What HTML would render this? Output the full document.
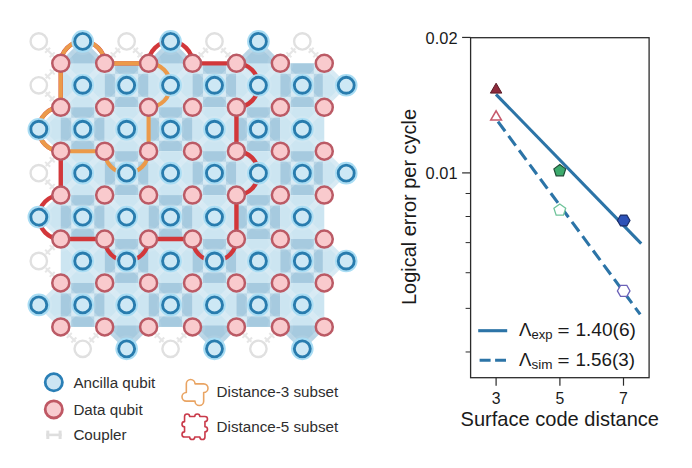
<!DOCTYPE html>
<html><head><meta charset="utf-8"><style>
html,body{margin:0;padding:0;background:#fff;}
body{width:692px;height:468px;overflow:hidden;}
svg{display:block;}
text{font-family:"Liberation Sans",sans-serif;fill:#1a1a1a;}
.lg text{fill:#2e2e2e;}
</style></head><body>
<svg width="692" height="468" viewBox="0 0 692 468">
<rect width="692" height="468" fill="#fff"/>
<polygon points="60.76,107.28 38.80,129.24 60.76,151.20" fill="#cce5f1" stroke="#cce5f1" stroke-width="3" stroke-linejoin="round"/>
<polygon points="60.76,195.12 38.80,217.08 60.76,239.04" fill="#cce5f1" stroke="#cce5f1" stroke-width="3" stroke-linejoin="round"/>
<polygon points="60.76,282.96 38.80,304.92 60.76,326.88" fill="#cce5f1" stroke="#cce5f1" stroke-width="3" stroke-linejoin="round"/>
<polygon points="60.76,63.36 82.72,41.40 104.68,63.36" fill="#a6cadf" stroke="#a6cadf" stroke-width="3" stroke-linejoin="round"/>
<rect x="60.76" y="63.36" width="43.92" height="43.92" fill="#cce5f1"/>
<rect x="60.76" y="107.28" width="43.92" height="43.92" fill="#cce5f1"/>
<rect x="71.22" y="107.28" width="23.00" height="10.46" fill="#a6cadf"/>
<rect x="71.22" y="140.74" width="23.00" height="10.46" fill="#a6cadf"/>
<rect x="60.76" y="117.74" width="10.46" height="23.00" fill="#a6cadf"/>
<rect x="94.22" y="117.74" width="10.46" height="23.00" fill="#a6cadf"/>
<rect x="60.76" y="151.20" width="43.92" height="43.92" fill="#cce5f1"/>
<rect x="60.76" y="195.12" width="43.92" height="43.92" fill="#cce5f1"/>
<rect x="71.22" y="195.12" width="23.00" height="10.46" fill="#a6cadf"/>
<rect x="71.22" y="228.58" width="23.00" height="10.46" fill="#a6cadf"/>
<rect x="60.76" y="205.58" width="10.46" height="23.00" fill="#a6cadf"/>
<rect x="94.22" y="205.58" width="10.46" height="23.00" fill="#a6cadf"/>
<rect x="60.76" y="239.04" width="43.92" height="43.92" fill="#cce5f1"/>
<rect x="60.76" y="282.96" width="43.92" height="43.92" fill="#cce5f1"/>
<rect x="71.22" y="282.96" width="23.00" height="10.46" fill="#a6cadf"/>
<rect x="71.22" y="316.42" width="23.00" height="10.46" fill="#a6cadf"/>
<rect x="60.76" y="293.42" width="10.46" height="23.00" fill="#a6cadf"/>
<rect x="94.22" y="293.42" width="10.46" height="23.00" fill="#a6cadf"/>
<rect x="104.68" y="63.36" width="43.92" height="43.92" fill="#cce5f1"/>
<rect x="115.14" y="63.36" width="23.00" height="10.46" fill="#a6cadf"/>
<rect x="115.14" y="96.82" width="23.00" height="10.46" fill="#a6cadf"/>
<rect x="104.68" y="73.82" width="10.46" height="23.00" fill="#a6cadf"/>
<rect x="138.14" y="73.82" width="10.46" height="23.00" fill="#a6cadf"/>
<rect x="104.68" y="107.28" width="43.92" height="43.92" fill="#cce5f1"/>
<rect x="104.68" y="151.20" width="43.92" height="43.92" fill="#cce5f1"/>
<rect x="115.14" y="151.20" width="23.00" height="10.46" fill="#a6cadf"/>
<rect x="115.14" y="184.66" width="23.00" height="10.46" fill="#a6cadf"/>
<rect x="104.68" y="161.66" width="10.46" height="23.00" fill="#a6cadf"/>
<rect x="138.14" y="161.66" width="10.46" height="23.00" fill="#a6cadf"/>
<rect x="104.68" y="195.12" width="43.92" height="43.92" fill="#cce5f1"/>
<rect x="104.68" y="239.04" width="43.92" height="43.92" fill="#cce5f1"/>
<rect x="115.14" y="239.04" width="23.00" height="10.46" fill="#a6cadf"/>
<rect x="115.14" y="272.50" width="23.00" height="10.46" fill="#a6cadf"/>
<rect x="104.68" y="249.50" width="10.46" height="23.00" fill="#a6cadf"/>
<rect x="138.14" y="249.50" width="10.46" height="23.00" fill="#a6cadf"/>
<rect x="104.68" y="282.96" width="43.92" height="43.92" fill="#cce5f1"/>
<polygon points="104.68,326.88 126.64,348.84 148.60,326.88" fill="#a6cadf" stroke="#a6cadf" stroke-width="3" stroke-linejoin="round"/>
<polygon points="148.60,63.36 170.56,41.40 192.52,63.36" fill="#a6cadf" stroke="#a6cadf" stroke-width="3" stroke-linejoin="round"/>
<rect x="148.60" y="63.36" width="43.92" height="43.92" fill="#cce5f1"/>
<rect x="148.60" y="107.28" width="43.92" height="43.92" fill="#cce5f1"/>
<rect x="159.06" y="107.28" width="23.00" height="10.46" fill="#a6cadf"/>
<rect x="159.06" y="140.74" width="23.00" height="10.46" fill="#a6cadf"/>
<rect x="148.60" y="117.74" width="10.46" height="23.00" fill="#a6cadf"/>
<rect x="182.06" y="117.74" width="10.46" height="23.00" fill="#a6cadf"/>
<rect x="148.60" y="151.20" width="43.92" height="43.92" fill="#cce5f1"/>
<rect x="148.60" y="195.12" width="43.92" height="43.92" fill="#cce5f1"/>
<rect x="159.06" y="195.12" width="23.00" height="10.46" fill="#a6cadf"/>
<rect x="159.06" y="228.58" width="23.00" height="10.46" fill="#a6cadf"/>
<rect x="148.60" y="205.58" width="10.46" height="23.00" fill="#a6cadf"/>
<rect x="182.06" y="205.58" width="10.46" height="23.00" fill="#a6cadf"/>
<rect x="148.60" y="239.04" width="43.92" height="43.92" fill="#cce5f1"/>
<rect x="148.60" y="282.96" width="43.92" height="43.92" fill="#cce5f1"/>
<rect x="159.06" y="282.96" width="23.00" height="10.46" fill="#a6cadf"/>
<rect x="159.06" y="316.42" width="23.00" height="10.46" fill="#a6cadf"/>
<rect x="148.60" y="293.42" width="10.46" height="23.00" fill="#a6cadf"/>
<rect x="182.06" y="293.42" width="10.46" height="23.00" fill="#a6cadf"/>
<rect x="192.52" y="63.36" width="43.92" height="43.92" fill="#cce5f1"/>
<rect x="202.98" y="63.36" width="23.00" height="10.46" fill="#a6cadf"/>
<rect x="202.98" y="96.82" width="23.00" height="10.46" fill="#a6cadf"/>
<rect x="192.52" y="73.82" width="10.46" height="23.00" fill="#a6cadf"/>
<rect x="225.98" y="73.82" width="10.46" height="23.00" fill="#a6cadf"/>
<rect x="192.52" y="107.28" width="43.92" height="43.92" fill="#cce5f1"/>
<rect x="192.52" y="151.20" width="43.92" height="43.92" fill="#cce5f1"/>
<rect x="202.98" y="151.20" width="23.00" height="10.46" fill="#a6cadf"/>
<rect x="202.98" y="184.66" width="23.00" height="10.46" fill="#a6cadf"/>
<rect x="192.52" y="161.66" width="10.46" height="23.00" fill="#a6cadf"/>
<rect x="225.98" y="161.66" width="10.46" height="23.00" fill="#a6cadf"/>
<rect x="192.52" y="195.12" width="43.92" height="43.92" fill="#cce5f1"/>
<rect x="192.52" y="239.04" width="43.92" height="43.92" fill="#cce5f1"/>
<rect x="202.98" y="239.04" width="23.00" height="10.46" fill="#a6cadf"/>
<rect x="202.98" y="272.50" width="23.00" height="10.46" fill="#a6cadf"/>
<rect x="192.52" y="249.50" width="10.46" height="23.00" fill="#a6cadf"/>
<rect x="225.98" y="249.50" width="10.46" height="23.00" fill="#a6cadf"/>
<rect x="192.52" y="282.96" width="43.92" height="43.92" fill="#cce5f1"/>
<polygon points="192.52,326.88 214.48,348.84 236.44,326.88" fill="#a6cadf" stroke="#a6cadf" stroke-width="3" stroke-linejoin="round"/>
<polygon points="236.44,63.36 258.40,41.40 280.36,63.36" fill="#a6cadf" stroke="#a6cadf" stroke-width="3" stroke-linejoin="round"/>
<rect x="236.44" y="63.36" width="43.92" height="43.92" fill="#cce5f1"/>
<rect x="236.44" y="107.28" width="43.92" height="43.92" fill="#cce5f1"/>
<rect x="246.90" y="107.28" width="23.00" height="10.46" fill="#a6cadf"/>
<rect x="246.90" y="140.74" width="23.00" height="10.46" fill="#a6cadf"/>
<rect x="236.44" y="117.74" width="10.46" height="23.00" fill="#a6cadf"/>
<rect x="269.90" y="117.74" width="10.46" height="23.00" fill="#a6cadf"/>
<rect x="236.44" y="151.20" width="43.92" height="43.92" fill="#cce5f1"/>
<rect x="236.44" y="195.12" width="43.92" height="43.92" fill="#cce5f1"/>
<rect x="246.90" y="195.12" width="23.00" height="10.46" fill="#a6cadf"/>
<rect x="246.90" y="228.58" width="23.00" height="10.46" fill="#a6cadf"/>
<rect x="236.44" y="205.58" width="10.46" height="23.00" fill="#a6cadf"/>
<rect x="269.90" y="205.58" width="10.46" height="23.00" fill="#a6cadf"/>
<rect x="236.44" y="239.04" width="43.92" height="43.92" fill="#cce5f1"/>
<rect x="236.44" y="282.96" width="43.92" height="43.92" fill="#cce5f1"/>
<rect x="246.90" y="282.96" width="23.00" height="10.46" fill="#a6cadf"/>
<rect x="246.90" y="316.42" width="23.00" height="10.46" fill="#a6cadf"/>
<rect x="236.44" y="293.42" width="10.46" height="23.00" fill="#a6cadf"/>
<rect x="269.90" y="293.42" width="10.46" height="23.00" fill="#a6cadf"/>
<rect x="280.36" y="63.36" width="43.92" height="43.92" fill="#cce5f1"/>
<rect x="290.82" y="63.36" width="23.00" height="10.46" fill="#a6cadf"/>
<rect x="290.82" y="96.82" width="23.00" height="10.46" fill="#a6cadf"/>
<rect x="280.36" y="73.82" width="10.46" height="23.00" fill="#a6cadf"/>
<rect x="313.82" y="73.82" width="10.46" height="23.00" fill="#a6cadf"/>
<rect x="280.36" y="107.28" width="43.92" height="43.92" fill="#cce5f1"/>
<rect x="280.36" y="151.20" width="43.92" height="43.92" fill="#cce5f1"/>
<rect x="290.82" y="151.20" width="23.00" height="10.46" fill="#a6cadf"/>
<rect x="290.82" y="184.66" width="23.00" height="10.46" fill="#a6cadf"/>
<rect x="280.36" y="161.66" width="10.46" height="23.00" fill="#a6cadf"/>
<rect x="313.82" y="161.66" width="10.46" height="23.00" fill="#a6cadf"/>
<rect x="280.36" y="195.12" width="43.92" height="43.92" fill="#cce5f1"/>
<rect x="280.36" y="239.04" width="43.92" height="43.92" fill="#cce5f1"/>
<rect x="290.82" y="239.04" width="23.00" height="10.46" fill="#a6cadf"/>
<rect x="290.82" y="272.50" width="23.00" height="10.46" fill="#a6cadf"/>
<rect x="280.36" y="249.50" width="10.46" height="23.00" fill="#a6cadf"/>
<rect x="313.82" y="249.50" width="10.46" height="23.00" fill="#a6cadf"/>
<rect x="280.36" y="282.96" width="43.92" height="43.92" fill="#cce5f1"/>
<polygon points="280.36,326.88 302.32,348.84 324.28,326.88" fill="#a6cadf" stroke="#a6cadf" stroke-width="3" stroke-linejoin="round"/>
<polygon points="324.28,63.36 346.24,85.32 324.28,107.28" fill="#cce5f1" stroke="#cce5f1" stroke-width="3" stroke-linejoin="round"/>
<polygon points="324.28,151.20 346.24,173.16 324.28,195.12" fill="#cce5f1" stroke="#cce5f1" stroke-width="3" stroke-linejoin="round"/>
<polygon points="324.28,239.04 346.24,261.00 324.28,282.96" fill="#cce5f1" stroke="#cce5f1" stroke-width="3" stroke-linejoin="round"/>
<line x1="45.87" y1="48.47" x2="53.65" y2="56.25" stroke="#e6e6e6" stroke-width="2.2"/>
<line x1="45.16" y1="52.71" x2="50.11" y2="47.76" stroke="#e6e6e6" stroke-width="2"/>
<line x1="49.76" y1="57.31" x2="54.71" y2="52.36" stroke="#e6e6e6" stroke-width="2"/>
<line x1="45.87" y1="92.39" x2="53.65" y2="100.17" stroke="#e6e6e6" stroke-width="2.2"/>
<line x1="45.16" y1="96.63" x2="50.11" y2="91.68" stroke="#e6e6e6" stroke-width="2"/>
<line x1="49.76" y1="101.23" x2="54.71" y2="96.28" stroke="#e6e6e6" stroke-width="2"/>
<line x1="45.87" y1="78.25" x2="53.65" y2="70.47" stroke="#e6e6e6" stroke-width="2.2"/>
<line x1="50.11" y1="78.96" x2="45.16" y2="74.01" stroke="#e6e6e6" stroke-width="2"/>
<line x1="54.71" y1="74.36" x2="49.76" y2="69.41" stroke="#e6e6e6" stroke-width="2"/>
<line x1="45.87" y1="180.23" x2="53.65" y2="188.01" stroke="#e6e6e6" stroke-width="2.2"/>
<line x1="45.16" y1="184.47" x2="50.11" y2="179.52" stroke="#e6e6e6" stroke-width="2"/>
<line x1="49.76" y1="189.07" x2="54.71" y2="184.12" stroke="#e6e6e6" stroke-width="2"/>
<line x1="45.87" y1="166.09" x2="53.65" y2="158.31" stroke="#e6e6e6" stroke-width="2.2"/>
<line x1="50.11" y1="166.80" x2="45.16" y2="161.85" stroke="#e6e6e6" stroke-width="2"/>
<line x1="54.71" y1="162.20" x2="49.76" y2="157.25" stroke="#e6e6e6" stroke-width="2"/>
<line x1="45.87" y1="268.07" x2="53.65" y2="275.85" stroke="#e6e6e6" stroke-width="2.2"/>
<line x1="45.16" y1="272.31" x2="50.11" y2="267.36" stroke="#e6e6e6" stroke-width="2"/>
<line x1="49.76" y1="276.91" x2="54.71" y2="271.96" stroke="#e6e6e6" stroke-width="2"/>
<line x1="45.87" y1="253.93" x2="53.65" y2="246.15" stroke="#e6e6e6" stroke-width="2.2"/>
<line x1="50.11" y1="254.64" x2="45.16" y2="249.69" stroke="#e6e6e6" stroke-width="2"/>
<line x1="54.71" y1="250.04" x2="49.76" y2="245.09" stroke="#e6e6e6" stroke-width="2"/>
<line x1="89.79" y1="341.77" x2="97.57" y2="333.99" stroke="#e6e6e6" stroke-width="2.2"/>
<line x1="94.03" y1="342.48" x2="89.08" y2="337.53" stroke="#e6e6e6" stroke-width="2"/>
<line x1="98.63" y1="337.88" x2="93.68" y2="332.93" stroke="#e6e6e6" stroke-width="2"/>
<line x1="75.65" y1="341.77" x2="67.87" y2="333.99" stroke="#e6e6e6" stroke-width="2.2"/>
<line x1="76.36" y1="337.53" x2="71.41" y2="342.48" stroke="#e6e6e6" stroke-width="2"/>
<line x1="71.76" y1="332.93" x2="66.81" y2="337.88" stroke="#e6e6e6" stroke-width="2"/>
<line x1="133.71" y1="48.47" x2="141.49" y2="56.25" stroke="#e6e6e6" stroke-width="2.2"/>
<line x1="133.00" y1="52.71" x2="137.95" y2="47.76" stroke="#e6e6e6" stroke-width="2"/>
<line x1="137.60" y1="57.31" x2="142.55" y2="52.36" stroke="#e6e6e6" stroke-width="2"/>
<line x1="119.57" y1="48.47" x2="111.79" y2="56.25" stroke="#e6e6e6" stroke-width="2.2"/>
<line x1="115.33" y1="47.76" x2="120.28" y2="52.71" stroke="#e6e6e6" stroke-width="2"/>
<line x1="110.73" y1="52.36" x2="115.68" y2="57.31" stroke="#e6e6e6" stroke-width="2"/>
<line x1="177.63" y1="341.77" x2="185.41" y2="333.99" stroke="#e6e6e6" stroke-width="2.2"/>
<line x1="181.87" y1="342.48" x2="176.92" y2="337.53" stroke="#e6e6e6" stroke-width="2"/>
<line x1="186.47" y1="337.88" x2="181.52" y2="332.93" stroke="#e6e6e6" stroke-width="2"/>
<line x1="163.49" y1="341.77" x2="155.71" y2="333.99" stroke="#e6e6e6" stroke-width="2.2"/>
<line x1="164.20" y1="337.53" x2="159.25" y2="342.48" stroke="#e6e6e6" stroke-width="2"/>
<line x1="159.60" y1="332.93" x2="154.65" y2="337.88" stroke="#e6e6e6" stroke-width="2"/>
<line x1="221.55" y1="48.47" x2="229.33" y2="56.25" stroke="#e6e6e6" stroke-width="2.2"/>
<line x1="220.84" y1="52.71" x2="225.79" y2="47.76" stroke="#e6e6e6" stroke-width="2"/>
<line x1="225.44" y1="57.31" x2="230.39" y2="52.36" stroke="#e6e6e6" stroke-width="2"/>
<line x1="207.41" y1="48.47" x2="199.63" y2="56.25" stroke="#e6e6e6" stroke-width="2.2"/>
<line x1="203.17" y1="47.76" x2="208.12" y2="52.71" stroke="#e6e6e6" stroke-width="2"/>
<line x1="198.57" y1="52.36" x2="203.52" y2="57.31" stroke="#e6e6e6" stroke-width="2"/>
<line x1="265.47" y1="341.77" x2="273.25" y2="333.99" stroke="#e6e6e6" stroke-width="2.2"/>
<line x1="269.71" y1="342.48" x2="264.76" y2="337.53" stroke="#e6e6e6" stroke-width="2"/>
<line x1="274.31" y1="337.88" x2="269.36" y2="332.93" stroke="#e6e6e6" stroke-width="2"/>
<line x1="251.33" y1="341.77" x2="243.55" y2="333.99" stroke="#e6e6e6" stroke-width="2.2"/>
<line x1="252.04" y1="337.53" x2="247.09" y2="342.48" stroke="#e6e6e6" stroke-width="2"/>
<line x1="247.44" y1="332.93" x2="242.49" y2="337.88" stroke="#e6e6e6" stroke-width="2"/>
<line x1="309.39" y1="48.47" x2="317.17" y2="56.25" stroke="#e6e6e6" stroke-width="2.2"/>
<line x1="308.68" y1="52.71" x2="313.63" y2="47.76" stroke="#e6e6e6" stroke-width="2"/>
<line x1="313.28" y1="57.31" x2="318.23" y2="52.36" stroke="#e6e6e6" stroke-width="2"/>
<line x1="295.25" y1="48.47" x2="287.47" y2="56.25" stroke="#e6e6e6" stroke-width="2.2"/>
<line x1="291.01" y1="47.76" x2="295.96" y2="52.71" stroke="#e6e6e6" stroke-width="2"/>
<line x1="286.41" y1="52.36" x2="291.36" y2="57.31" stroke="#e6e6e6" stroke-width="2"/>
<g stroke="#ffffff" stroke-opacity="0.22" stroke-width="6"><line x1="38.80" y1="129.24" x2="60.76" y2="107.28"/><line x1="38.80" y1="129.24" x2="60.76" y2="151.20"/><line x1="38.80" y1="217.08" x2="60.76" y2="195.12"/><line x1="38.80" y1="217.08" x2="60.76" y2="239.04"/><line x1="38.80" y1="304.92" x2="60.76" y2="282.96"/><line x1="38.80" y1="304.92" x2="60.76" y2="326.88"/><line x1="82.72" y1="41.40" x2="60.76" y2="63.36"/><line x1="82.72" y1="41.40" x2="104.68" y2="63.36"/><line x1="82.72" y1="85.32" x2="60.76" y2="63.36"/><line x1="82.72" y1="85.32" x2="60.76" y2="107.28"/><line x1="82.72" y1="85.32" x2="104.68" y2="63.36"/><line x1="82.72" y1="85.32" x2="104.68" y2="107.28"/><line x1="82.72" y1="129.24" x2="60.76" y2="107.28"/><line x1="82.72" y1="129.24" x2="60.76" y2="151.20"/><line x1="82.72" y1="129.24" x2="104.68" y2="107.28"/><line x1="82.72" y1="129.24" x2="104.68" y2="151.20"/><line x1="82.72" y1="173.16" x2="60.76" y2="151.20"/><line x1="82.72" y1="173.16" x2="60.76" y2="195.12"/><line x1="82.72" y1="173.16" x2="104.68" y2="151.20"/><line x1="82.72" y1="173.16" x2="104.68" y2="195.12"/><line x1="82.72" y1="217.08" x2="60.76" y2="195.12"/><line x1="82.72" y1="217.08" x2="60.76" y2="239.04"/><line x1="82.72" y1="217.08" x2="104.68" y2="195.12"/><line x1="82.72" y1="217.08" x2="104.68" y2="239.04"/><line x1="82.72" y1="261.00" x2="60.76" y2="239.04"/><line x1="82.72" y1="261.00" x2="60.76" y2="282.96"/><line x1="82.72" y1="261.00" x2="104.68" y2="239.04"/><line x1="82.72" y1="261.00" x2="104.68" y2="282.96"/><line x1="82.72" y1="304.92" x2="60.76" y2="282.96"/><line x1="82.72" y1="304.92" x2="60.76" y2="326.88"/><line x1="82.72" y1="304.92" x2="104.68" y2="282.96"/><line x1="82.72" y1="304.92" x2="104.68" y2="326.88"/><line x1="126.64" y1="85.32" x2="104.68" y2="63.36"/><line x1="126.64" y1="85.32" x2="104.68" y2="107.28"/><line x1="126.64" y1="85.32" x2="148.60" y2="63.36"/><line x1="126.64" y1="85.32" x2="148.60" y2="107.28"/><line x1="126.64" y1="129.24" x2="104.68" y2="107.28"/><line x1="126.64" y1="129.24" x2="104.68" y2="151.20"/><line x1="126.64" y1="129.24" x2="148.60" y2="107.28"/><line x1="126.64" y1="129.24" x2="148.60" y2="151.20"/><line x1="126.64" y1="173.16" x2="104.68" y2="151.20"/><line x1="126.64" y1="173.16" x2="104.68" y2="195.12"/><line x1="126.64" y1="173.16" x2="148.60" y2="151.20"/><line x1="126.64" y1="173.16" x2="148.60" y2="195.12"/><line x1="126.64" y1="217.08" x2="104.68" y2="195.12"/><line x1="126.64" y1="217.08" x2="104.68" y2="239.04"/><line x1="126.64" y1="217.08" x2="148.60" y2="195.12"/><line x1="126.64" y1="217.08" x2="148.60" y2="239.04"/><line x1="126.64" y1="261.00" x2="104.68" y2="239.04"/><line x1="126.64" y1="261.00" x2="104.68" y2="282.96"/><line x1="126.64" y1="261.00" x2="148.60" y2="239.04"/><line x1="126.64" y1="261.00" x2="148.60" y2="282.96"/><line x1="126.64" y1="304.92" x2="104.68" y2="282.96"/><line x1="126.64" y1="304.92" x2="104.68" y2="326.88"/><line x1="126.64" y1="304.92" x2="148.60" y2="282.96"/><line x1="126.64" y1="304.92" x2="148.60" y2="326.88"/><line x1="126.64" y1="348.84" x2="104.68" y2="326.88"/><line x1="126.64" y1="348.84" x2="148.60" y2="326.88"/><line x1="170.56" y1="41.40" x2="148.60" y2="63.36"/><line x1="170.56" y1="41.40" x2="192.52" y2="63.36"/><line x1="170.56" y1="85.32" x2="148.60" y2="63.36"/><line x1="170.56" y1="85.32" x2="148.60" y2="107.28"/><line x1="170.56" y1="85.32" x2="192.52" y2="63.36"/><line x1="170.56" y1="85.32" x2="192.52" y2="107.28"/><line x1="170.56" y1="129.24" x2="148.60" y2="107.28"/><line x1="170.56" y1="129.24" x2="148.60" y2="151.20"/><line x1="170.56" y1="129.24" x2="192.52" y2="107.28"/><line x1="170.56" y1="129.24" x2="192.52" y2="151.20"/><line x1="170.56" y1="173.16" x2="148.60" y2="151.20"/><line x1="170.56" y1="173.16" x2="148.60" y2="195.12"/><line x1="170.56" y1="173.16" x2="192.52" y2="151.20"/><line x1="170.56" y1="173.16" x2="192.52" y2="195.12"/><line x1="170.56" y1="217.08" x2="148.60" y2="195.12"/><line x1="170.56" y1="217.08" x2="148.60" y2="239.04"/><line x1="170.56" y1="217.08" x2="192.52" y2="195.12"/><line x1="170.56" y1="217.08" x2="192.52" y2="239.04"/><line x1="170.56" y1="261.00" x2="148.60" y2="239.04"/><line x1="170.56" y1="261.00" x2="148.60" y2="282.96"/><line x1="170.56" y1="261.00" x2="192.52" y2="239.04"/><line x1="170.56" y1="261.00" x2="192.52" y2="282.96"/><line x1="170.56" y1="304.92" x2="148.60" y2="282.96"/><line x1="170.56" y1="304.92" x2="148.60" y2="326.88"/><line x1="170.56" y1="304.92" x2="192.52" y2="282.96"/><line x1="170.56" y1="304.92" x2="192.52" y2="326.88"/><line x1="214.48" y1="85.32" x2="192.52" y2="63.36"/><line x1="214.48" y1="85.32" x2="192.52" y2="107.28"/><line x1="214.48" y1="85.32" x2="236.44" y2="63.36"/><line x1="214.48" y1="85.32" x2="236.44" y2="107.28"/><line x1="214.48" y1="129.24" x2="192.52" y2="107.28"/><line x1="214.48" y1="129.24" x2="192.52" y2="151.20"/><line x1="214.48" y1="129.24" x2="236.44" y2="107.28"/><line x1="214.48" y1="129.24" x2="236.44" y2="151.20"/><line x1="214.48" y1="173.16" x2="192.52" y2="151.20"/><line x1="214.48" y1="173.16" x2="192.52" y2="195.12"/><line x1="214.48" y1="173.16" x2="236.44" y2="151.20"/><line x1="214.48" y1="173.16" x2="236.44" y2="195.12"/><line x1="214.48" y1="217.08" x2="192.52" y2="195.12"/><line x1="214.48" y1="217.08" x2="192.52" y2="239.04"/><line x1="214.48" y1="217.08" x2="236.44" y2="195.12"/><line x1="214.48" y1="217.08" x2="236.44" y2="239.04"/><line x1="214.48" y1="261.00" x2="192.52" y2="239.04"/><line x1="214.48" y1="261.00" x2="192.52" y2="282.96"/><line x1="214.48" y1="261.00" x2="236.44" y2="239.04"/><line x1="214.48" y1="261.00" x2="236.44" y2="282.96"/><line x1="214.48" y1="304.92" x2="192.52" y2="282.96"/><line x1="214.48" y1="304.92" x2="192.52" y2="326.88"/><line x1="214.48" y1="304.92" x2="236.44" y2="282.96"/><line x1="214.48" y1="304.92" x2="236.44" y2="326.88"/><line x1="214.48" y1="348.84" x2="192.52" y2="326.88"/><line x1="214.48" y1="348.84" x2="236.44" y2="326.88"/><line x1="258.40" y1="41.40" x2="236.44" y2="63.36"/><line x1="258.40" y1="41.40" x2="280.36" y2="63.36"/><line x1="258.40" y1="85.32" x2="236.44" y2="63.36"/><line x1="258.40" y1="85.32" x2="236.44" y2="107.28"/><line x1="258.40" y1="85.32" x2="280.36" y2="63.36"/><line x1="258.40" y1="85.32" x2="280.36" y2="107.28"/><line x1="258.40" y1="129.24" x2="236.44" y2="107.28"/><line x1="258.40" y1="129.24" x2="236.44" y2="151.20"/><line x1="258.40" y1="129.24" x2="280.36" y2="107.28"/><line x1="258.40" y1="129.24" x2="280.36" y2="151.20"/><line x1="258.40" y1="173.16" x2="236.44" y2="151.20"/><line x1="258.40" y1="173.16" x2="236.44" y2="195.12"/><line x1="258.40" y1="173.16" x2="280.36" y2="151.20"/><line x1="258.40" y1="173.16" x2="280.36" y2="195.12"/><line x1="258.40" y1="217.08" x2="236.44" y2="195.12"/><line x1="258.40" y1="217.08" x2="236.44" y2="239.04"/><line x1="258.40" y1="217.08" x2="280.36" y2="195.12"/><line x1="258.40" y1="217.08" x2="280.36" y2="239.04"/><line x1="258.40" y1="261.00" x2="236.44" y2="239.04"/><line x1="258.40" y1="261.00" x2="236.44" y2="282.96"/><line x1="258.40" y1="261.00" x2="280.36" y2="239.04"/><line x1="258.40" y1="261.00" x2="280.36" y2="282.96"/><line x1="258.40" y1="304.92" x2="236.44" y2="282.96"/><line x1="258.40" y1="304.92" x2="236.44" y2="326.88"/><line x1="258.40" y1="304.92" x2="280.36" y2="282.96"/><line x1="258.40" y1="304.92" x2="280.36" y2="326.88"/><line x1="302.32" y1="85.32" x2="280.36" y2="63.36"/><line x1="302.32" y1="85.32" x2="280.36" y2="107.28"/><line x1="302.32" y1="85.32" x2="324.28" y2="63.36"/><line x1="302.32" y1="85.32" x2="324.28" y2="107.28"/><line x1="302.32" y1="129.24" x2="280.36" y2="107.28"/><line x1="302.32" y1="129.24" x2="280.36" y2="151.20"/><line x1="302.32" y1="129.24" x2="324.28" y2="107.28"/><line x1="302.32" y1="129.24" x2="324.28" y2="151.20"/><line x1="302.32" y1="173.16" x2="280.36" y2="151.20"/><line x1="302.32" y1="173.16" x2="280.36" y2="195.12"/><line x1="302.32" y1="173.16" x2="324.28" y2="151.20"/><line x1="302.32" y1="173.16" x2="324.28" y2="195.12"/><line x1="302.32" y1="217.08" x2="280.36" y2="195.12"/><line x1="302.32" y1="217.08" x2="280.36" y2="239.04"/><line x1="302.32" y1="217.08" x2="324.28" y2="195.12"/><line x1="302.32" y1="217.08" x2="324.28" y2="239.04"/><line x1="302.32" y1="261.00" x2="280.36" y2="239.04"/><line x1="302.32" y1="261.00" x2="280.36" y2="282.96"/><line x1="302.32" y1="261.00" x2="324.28" y2="239.04"/><line x1="302.32" y1="261.00" x2="324.28" y2="282.96"/><line x1="302.32" y1="304.92" x2="280.36" y2="282.96"/><line x1="302.32" y1="304.92" x2="280.36" y2="326.88"/><line x1="302.32" y1="304.92" x2="324.28" y2="282.96"/><line x1="302.32" y1="304.92" x2="324.28" y2="326.88"/><line x1="302.32" y1="348.84" x2="280.36" y2="326.88"/><line x1="302.32" y1="348.84" x2="324.28" y2="326.88"/><line x1="346.24" y1="85.32" x2="324.28" y2="63.36"/><line x1="346.24" y1="85.32" x2="324.28" y2="107.28"/><line x1="346.24" y1="173.16" x2="324.28" y2="151.20"/><line x1="346.24" y1="173.16" x2="324.28" y2="195.12"/><line x1="346.24" y1="261.00" x2="324.28" y2="239.04"/><line x1="346.24" y1="261.00" x2="324.28" y2="282.96"/></g>
<g fill="#ffffff" fill-opacity="0.08"><circle cx="38.80" cy="129.24" r="13.5"/><circle cx="38.80" cy="217.08" r="13.5"/><circle cx="38.80" cy="304.92" r="13.5"/><circle cx="82.72" cy="41.40" r="13.5"/><circle cx="82.72" cy="85.32" r="13.5"/><circle cx="82.72" cy="129.24" r="13.5"/><circle cx="82.72" cy="173.16" r="13.5"/><circle cx="82.72" cy="217.08" r="13.5"/><circle cx="82.72" cy="261.00" r="13.5"/><circle cx="82.72" cy="304.92" r="13.5"/><circle cx="126.64" cy="85.32" r="13.5"/><circle cx="126.64" cy="129.24" r="13.5"/><circle cx="126.64" cy="173.16" r="13.5"/><circle cx="126.64" cy="217.08" r="13.5"/><circle cx="126.64" cy="261.00" r="13.5"/><circle cx="126.64" cy="304.92" r="13.5"/><circle cx="126.64" cy="348.84" r="13.5"/><circle cx="170.56" cy="41.40" r="13.5"/><circle cx="170.56" cy="85.32" r="13.5"/><circle cx="170.56" cy="129.24" r="13.5"/><circle cx="170.56" cy="173.16" r="13.5"/><circle cx="170.56" cy="217.08" r="13.5"/><circle cx="170.56" cy="261.00" r="13.5"/><circle cx="170.56" cy="304.92" r="13.5"/><circle cx="214.48" cy="85.32" r="13.5"/><circle cx="214.48" cy="129.24" r="13.5"/><circle cx="214.48" cy="173.16" r="13.5"/><circle cx="214.48" cy="217.08" r="13.5"/><circle cx="214.48" cy="261.00" r="13.5"/><circle cx="214.48" cy="304.92" r="13.5"/><circle cx="214.48" cy="348.84" r="13.5"/><circle cx="258.40" cy="41.40" r="13.5"/><circle cx="258.40" cy="85.32" r="13.5"/><circle cx="258.40" cy="129.24" r="13.5"/><circle cx="258.40" cy="173.16" r="13.5"/><circle cx="258.40" cy="217.08" r="13.5"/><circle cx="258.40" cy="261.00" r="13.5"/><circle cx="258.40" cy="304.92" r="13.5"/><circle cx="302.32" cy="85.32" r="13.5"/><circle cx="302.32" cy="129.24" r="13.5"/><circle cx="302.32" cy="173.16" r="13.5"/><circle cx="302.32" cy="217.08" r="13.5"/><circle cx="302.32" cy="261.00" r="13.5"/><circle cx="302.32" cy="304.92" r="13.5"/><circle cx="302.32" cy="348.84" r="13.5"/><circle cx="346.24" cy="85.32" r="13.5"/><circle cx="346.24" cy="173.16" r="13.5"/><circle cx="346.24" cy="261.00" r="13.5"/><circle cx="60.76" cy="63.36" r="13"/><circle cx="60.76" cy="107.28" r="13"/><circle cx="60.76" cy="151.20" r="13"/><circle cx="60.76" cy="195.12" r="13"/><circle cx="60.76" cy="239.04" r="13"/><circle cx="60.76" cy="282.96" r="13"/><circle cx="60.76" cy="326.88" r="13"/><circle cx="104.68" cy="63.36" r="13"/><circle cx="104.68" cy="107.28" r="13"/><circle cx="104.68" cy="151.20" r="13"/><circle cx="104.68" cy="195.12" r="13"/><circle cx="104.68" cy="239.04" r="13"/><circle cx="104.68" cy="282.96" r="13"/><circle cx="104.68" cy="326.88" r="13"/><circle cx="148.60" cy="63.36" r="13"/><circle cx="148.60" cy="107.28" r="13"/><circle cx="148.60" cy="151.20" r="13"/><circle cx="148.60" cy="195.12" r="13"/><circle cx="148.60" cy="239.04" r="13"/><circle cx="148.60" cy="282.96" r="13"/><circle cx="148.60" cy="326.88" r="13"/><circle cx="192.52" cy="63.36" r="13"/><circle cx="192.52" cy="107.28" r="13"/><circle cx="192.52" cy="151.20" r="13"/><circle cx="192.52" cy="195.12" r="13"/><circle cx="192.52" cy="239.04" r="13"/><circle cx="192.52" cy="282.96" r="13"/><circle cx="192.52" cy="326.88" r="13"/><circle cx="236.44" cy="63.36" r="13"/><circle cx="236.44" cy="107.28" r="13"/><circle cx="236.44" cy="151.20" r="13"/><circle cx="236.44" cy="195.12" r="13"/><circle cx="236.44" cy="239.04" r="13"/><circle cx="236.44" cy="282.96" r="13"/><circle cx="236.44" cy="326.88" r="13"/><circle cx="280.36" cy="63.36" r="13"/><circle cx="280.36" cy="107.28" r="13"/><circle cx="280.36" cy="151.20" r="13"/><circle cx="280.36" cy="195.12" r="13"/><circle cx="280.36" cy="239.04" r="13"/><circle cx="280.36" cy="282.96" r="13"/><circle cx="280.36" cy="326.88" r="13"/><circle cx="324.28" cy="63.36" r="13"/><circle cx="324.28" cy="107.28" r="13"/><circle cx="324.28" cy="151.20" r="13"/><circle cx="324.28" cy="195.12" r="13"/><circle cx="324.28" cy="239.04" r="13"/><circle cx="324.28" cy="282.96" r="13"/><circle cx="324.28" cy="326.88" r="13"/></g>
<path d="M60.76,63.36 A21.96,21.96 0 0 1 104.68,63.36 L148.60,63.36 A21.96,21.96 0 0 1 192.52,63.36 L236.44,63.36 A21.96,21.96 0 0 1 236.44,107.28 L236.44,151.20 A21.96,21.96 0 0 1 236.44,195.12 L236.44,239.04 A21.96,21.96 0 0 1 192.52,239.04 L148.60,239.04 A21.96,21.96 0 0 1 104.68,239.04 L60.76,239.04 A21.96,21.96 0 0 1 60.76,195.12 L60.76,151.20 A21.96,21.96 0 0 1 60.76,107.28 L60.76,63.36 Z" fill="none" stroke="#d2373a" stroke-width="4.4" stroke-linejoin="round"/>
<path d="M60.76,63.36 A21.96,21.96 0 0 1 104.68,63.36 L148.60,63.36 A21.96,21.96 0 0 1 148.60,107.28 L148.60,151.20 A21.96,21.96 0 0 1 104.68,151.20 L60.76,151.20 A21.96,21.96 0 0 1 60.76,107.28 L60.76,63.36 Z" fill="none" stroke="#eb9a4a" stroke-width="4.1" stroke-linejoin="round"/>
<circle cx="38.80" cy="41.40" r="8.2" fill="none" stroke="#e0e0e0" stroke-width="2.4"/>
<circle cx="38.80" cy="85.32" r="8.2" fill="none" stroke="#e0e0e0" stroke-width="2.4"/>
<circle cx="38.80" cy="173.16" r="8.2" fill="none" stroke="#e0e0e0" stroke-width="2.4"/>
<circle cx="38.80" cy="261.00" r="8.2" fill="none" stroke="#e0e0e0" stroke-width="2.4"/>
<circle cx="82.72" cy="348.84" r="8.2" fill="none" stroke="#e0e0e0" stroke-width="2.4"/>
<circle cx="126.64" cy="41.40" r="8.2" fill="none" stroke="#e0e0e0" stroke-width="2.4"/>
<circle cx="170.56" cy="348.84" r="8.2" fill="none" stroke="#e0e0e0" stroke-width="2.4"/>
<circle cx="214.48" cy="41.40" r="8.2" fill="none" stroke="#e0e0e0" stroke-width="2.4"/>
<circle cx="258.40" cy="348.84" r="8.2" fill="none" stroke="#e0e0e0" stroke-width="2.4"/>
<circle cx="302.32" cy="41.40" r="8.2" fill="none" stroke="#e0e0e0" stroke-width="2.4"/>
<circle cx="60.76" cy="63.36" r="8.5" fill="#f9cacd" stroke="#bb5a65" stroke-width="2.5"/>
<circle cx="60.76" cy="107.28" r="8.5" fill="#f9cacd" stroke="#bb5a65" stroke-width="2.5"/>
<circle cx="60.76" cy="151.20" r="8.5" fill="#f9cacd" stroke="#bb5a65" stroke-width="2.5"/>
<circle cx="60.76" cy="195.12" r="8.5" fill="#f9cacd" stroke="#bb5a65" stroke-width="2.5"/>
<circle cx="60.76" cy="239.04" r="8.5" fill="#f9cacd" stroke="#bb5a65" stroke-width="2.5"/>
<circle cx="60.76" cy="282.96" r="8.5" fill="#f9cacd" stroke="#bb5a65" stroke-width="2.5"/>
<circle cx="60.76" cy="326.88" r="8.5" fill="#f9cacd" stroke="#bb5a65" stroke-width="2.5"/>
<circle cx="104.68" cy="63.36" r="8.5" fill="#f9cacd" stroke="#bb5a65" stroke-width="2.5"/>
<circle cx="104.68" cy="107.28" r="8.5" fill="#f9cacd" stroke="#bb5a65" stroke-width="2.5"/>
<circle cx="104.68" cy="151.20" r="8.5" fill="#f9cacd" stroke="#bb5a65" stroke-width="2.5"/>
<circle cx="104.68" cy="195.12" r="8.5" fill="#f9cacd" stroke="#bb5a65" stroke-width="2.5"/>
<circle cx="104.68" cy="239.04" r="8.5" fill="#f9cacd" stroke="#bb5a65" stroke-width="2.5"/>
<circle cx="104.68" cy="282.96" r="8.5" fill="#f9cacd" stroke="#bb5a65" stroke-width="2.5"/>
<circle cx="104.68" cy="326.88" r="8.5" fill="#f9cacd" stroke="#bb5a65" stroke-width="2.5"/>
<circle cx="148.60" cy="63.36" r="8.5" fill="#f9cacd" stroke="#bb5a65" stroke-width="2.5"/>
<circle cx="148.60" cy="107.28" r="8.5" fill="#f9cacd" stroke="#bb5a65" stroke-width="2.5"/>
<circle cx="148.60" cy="151.20" r="8.5" fill="#f9cacd" stroke="#bb5a65" stroke-width="2.5"/>
<circle cx="148.60" cy="195.12" r="8.5" fill="#f9cacd" stroke="#bb5a65" stroke-width="2.5"/>
<circle cx="148.60" cy="239.04" r="8.5" fill="#f9cacd" stroke="#bb5a65" stroke-width="2.5"/>
<circle cx="148.60" cy="282.96" r="8.5" fill="#f9cacd" stroke="#bb5a65" stroke-width="2.5"/>
<circle cx="148.60" cy="326.88" r="8.5" fill="#f9cacd" stroke="#bb5a65" stroke-width="2.5"/>
<circle cx="192.52" cy="63.36" r="8.5" fill="#f9cacd" stroke="#bb5a65" stroke-width="2.5"/>
<circle cx="192.52" cy="107.28" r="8.5" fill="#f9cacd" stroke="#bb5a65" stroke-width="2.5"/>
<circle cx="192.52" cy="151.20" r="8.5" fill="#f9cacd" stroke="#bb5a65" stroke-width="2.5"/>
<circle cx="192.52" cy="195.12" r="8.5" fill="#f9cacd" stroke="#bb5a65" stroke-width="2.5"/>
<circle cx="192.52" cy="239.04" r="8.5" fill="#f9cacd" stroke="#bb5a65" stroke-width="2.5"/>
<circle cx="192.52" cy="282.96" r="8.5" fill="#f9cacd" stroke="#bb5a65" stroke-width="2.5"/>
<circle cx="192.52" cy="326.88" r="8.5" fill="#f9cacd" stroke="#bb5a65" stroke-width="2.5"/>
<circle cx="236.44" cy="63.36" r="8.5" fill="#f9cacd" stroke="#bb5a65" stroke-width="2.5"/>
<circle cx="236.44" cy="107.28" r="8.5" fill="#f9cacd" stroke="#bb5a65" stroke-width="2.5"/>
<circle cx="236.44" cy="151.20" r="8.5" fill="#f9cacd" stroke="#bb5a65" stroke-width="2.5"/>
<circle cx="236.44" cy="195.12" r="8.5" fill="#f9cacd" stroke="#bb5a65" stroke-width="2.5"/>
<circle cx="236.44" cy="239.04" r="8.5" fill="#f9cacd" stroke="#bb5a65" stroke-width="2.5"/>
<circle cx="236.44" cy="282.96" r="8.5" fill="#f9cacd" stroke="#bb5a65" stroke-width="2.5"/>
<circle cx="236.44" cy="326.88" r="8.5" fill="#f9cacd" stroke="#bb5a65" stroke-width="2.5"/>
<circle cx="280.36" cy="63.36" r="8.5" fill="#f9cacd" stroke="#bb5a65" stroke-width="2.5"/>
<circle cx="280.36" cy="107.28" r="8.5" fill="#f9cacd" stroke="#bb5a65" stroke-width="2.5"/>
<circle cx="280.36" cy="151.20" r="8.5" fill="#f9cacd" stroke="#bb5a65" stroke-width="2.5"/>
<circle cx="280.36" cy="195.12" r="8.5" fill="#f9cacd" stroke="#bb5a65" stroke-width="2.5"/>
<circle cx="280.36" cy="239.04" r="8.5" fill="#f9cacd" stroke="#bb5a65" stroke-width="2.5"/>
<circle cx="280.36" cy="282.96" r="8.5" fill="#f9cacd" stroke="#bb5a65" stroke-width="2.5"/>
<circle cx="280.36" cy="326.88" r="8.5" fill="#f9cacd" stroke="#bb5a65" stroke-width="2.5"/>
<circle cx="324.28" cy="63.36" r="8.5" fill="#f9cacd" stroke="#bb5a65" stroke-width="2.5"/>
<circle cx="324.28" cy="107.28" r="8.5" fill="#f9cacd" stroke="#bb5a65" stroke-width="2.5"/>
<circle cx="324.28" cy="151.20" r="8.5" fill="#f9cacd" stroke="#bb5a65" stroke-width="2.5"/>
<circle cx="324.28" cy="195.12" r="8.5" fill="#f9cacd" stroke="#bb5a65" stroke-width="2.5"/>
<circle cx="324.28" cy="239.04" r="8.5" fill="#f9cacd" stroke="#bb5a65" stroke-width="2.5"/>
<circle cx="324.28" cy="282.96" r="8.5" fill="#f9cacd" stroke="#bb5a65" stroke-width="2.5"/>
<circle cx="324.28" cy="326.88" r="8.5" fill="#f9cacd" stroke="#bb5a65" stroke-width="2.5"/>
<circle cx="38.80" cy="129.24" r="10.3" fill="none" stroke="#a9ddf4" stroke-width="2.0"/>
<circle cx="38.80" cy="129.24" r="8.0" fill="#cde8f5" stroke="#287cae" stroke-width="2.9"/>
<circle cx="38.80" cy="217.08" r="10.3" fill="none" stroke="#a9ddf4" stroke-width="2.0"/>
<circle cx="38.80" cy="217.08" r="8.0" fill="#cde8f5" stroke="#287cae" stroke-width="2.9"/>
<circle cx="38.80" cy="304.92" r="10.3" fill="none" stroke="#a9ddf4" stroke-width="2.0"/>
<circle cx="38.80" cy="304.92" r="8.0" fill="#cde8f5" stroke="#287cae" stroke-width="2.9"/>
<circle cx="82.72" cy="41.40" r="10.3" fill="none" stroke="#a9ddf4" stroke-width="2.0"/>
<circle cx="82.72" cy="41.40" r="8.0" fill="#cde8f5" stroke="#287cae" stroke-width="2.9"/>
<circle cx="82.72" cy="85.32" r="10.3" fill="none" stroke="#a9ddf4" stroke-width="2.0"/>
<circle cx="82.72" cy="85.32" r="8.0" fill="#cde8f5" stroke="#287cae" stroke-width="2.9"/>
<circle cx="82.72" cy="129.24" r="10.3" fill="none" stroke="#a9ddf4" stroke-width="2.0"/>
<circle cx="82.72" cy="129.24" r="8.0" fill="#cde8f5" stroke="#287cae" stroke-width="2.9"/>
<circle cx="82.72" cy="173.16" r="10.3" fill="none" stroke="#a9ddf4" stroke-width="2.0"/>
<circle cx="82.72" cy="173.16" r="8.0" fill="#cde8f5" stroke="#287cae" stroke-width="2.9"/>
<circle cx="82.72" cy="217.08" r="10.3" fill="none" stroke="#a9ddf4" stroke-width="2.0"/>
<circle cx="82.72" cy="217.08" r="8.0" fill="#cde8f5" stroke="#287cae" stroke-width="2.9"/>
<circle cx="82.72" cy="261.00" r="10.3" fill="none" stroke="#a9ddf4" stroke-width="2.0"/>
<circle cx="82.72" cy="261.00" r="8.0" fill="#cde8f5" stroke="#287cae" stroke-width="2.9"/>
<circle cx="82.72" cy="304.92" r="10.3" fill="none" stroke="#a9ddf4" stroke-width="2.0"/>
<circle cx="82.72" cy="304.92" r="8.0" fill="#cde8f5" stroke="#287cae" stroke-width="2.9"/>
<circle cx="126.64" cy="85.32" r="10.3" fill="none" stroke="#a9ddf4" stroke-width="2.0"/>
<circle cx="126.64" cy="85.32" r="8.0" fill="#cde8f5" stroke="#287cae" stroke-width="2.9"/>
<circle cx="126.64" cy="129.24" r="10.3" fill="none" stroke="#a9ddf4" stroke-width="2.0"/>
<circle cx="126.64" cy="129.24" r="8.0" fill="#cde8f5" stroke="#287cae" stroke-width="2.9"/>
<circle cx="126.64" cy="173.16" r="10.3" fill="none" stroke="#a9ddf4" stroke-width="2.0"/>
<circle cx="126.64" cy="173.16" r="8.0" fill="#cde8f5" stroke="#287cae" stroke-width="2.9"/>
<circle cx="126.64" cy="217.08" r="10.3" fill="none" stroke="#a9ddf4" stroke-width="2.0"/>
<circle cx="126.64" cy="217.08" r="8.0" fill="#cde8f5" stroke="#287cae" stroke-width="2.9"/>
<circle cx="126.64" cy="261.00" r="10.3" fill="none" stroke="#a9ddf4" stroke-width="2.0"/>
<circle cx="126.64" cy="261.00" r="8.0" fill="#cde8f5" stroke="#287cae" stroke-width="2.9"/>
<circle cx="126.64" cy="304.92" r="10.3" fill="none" stroke="#a9ddf4" stroke-width="2.0"/>
<circle cx="126.64" cy="304.92" r="8.0" fill="#cde8f5" stroke="#287cae" stroke-width="2.9"/>
<circle cx="126.64" cy="348.84" r="10.3" fill="none" stroke="#a9ddf4" stroke-width="2.0"/>
<circle cx="126.64" cy="348.84" r="8.0" fill="#cde8f5" stroke="#287cae" stroke-width="2.9"/>
<circle cx="170.56" cy="41.40" r="10.3" fill="none" stroke="#a9ddf4" stroke-width="2.0"/>
<circle cx="170.56" cy="41.40" r="8.0" fill="#cde8f5" stroke="#287cae" stroke-width="2.9"/>
<circle cx="170.56" cy="85.32" r="10.3" fill="none" stroke="#a9ddf4" stroke-width="2.0"/>
<circle cx="170.56" cy="85.32" r="8.0" fill="#cde8f5" stroke="#287cae" stroke-width="2.9"/>
<circle cx="170.56" cy="129.24" r="10.3" fill="none" stroke="#a9ddf4" stroke-width="2.0"/>
<circle cx="170.56" cy="129.24" r="8.0" fill="#cde8f5" stroke="#287cae" stroke-width="2.9"/>
<circle cx="170.56" cy="173.16" r="10.3" fill="none" stroke="#a9ddf4" stroke-width="2.0"/>
<circle cx="170.56" cy="173.16" r="8.0" fill="#cde8f5" stroke="#287cae" stroke-width="2.9"/>
<circle cx="170.56" cy="217.08" r="10.3" fill="none" stroke="#a9ddf4" stroke-width="2.0"/>
<circle cx="170.56" cy="217.08" r="8.0" fill="#cde8f5" stroke="#287cae" stroke-width="2.9"/>
<circle cx="170.56" cy="261.00" r="10.3" fill="none" stroke="#a9ddf4" stroke-width="2.0"/>
<circle cx="170.56" cy="261.00" r="8.0" fill="#cde8f5" stroke="#287cae" stroke-width="2.9"/>
<circle cx="170.56" cy="304.92" r="10.3" fill="none" stroke="#a9ddf4" stroke-width="2.0"/>
<circle cx="170.56" cy="304.92" r="8.0" fill="#cde8f5" stroke="#287cae" stroke-width="2.9"/>
<circle cx="214.48" cy="85.32" r="10.3" fill="none" stroke="#a9ddf4" stroke-width="2.0"/>
<circle cx="214.48" cy="85.32" r="8.0" fill="#cde8f5" stroke="#287cae" stroke-width="2.9"/>
<circle cx="214.48" cy="129.24" r="10.3" fill="none" stroke="#a9ddf4" stroke-width="2.0"/>
<circle cx="214.48" cy="129.24" r="8.0" fill="#cde8f5" stroke="#287cae" stroke-width="2.9"/>
<circle cx="214.48" cy="173.16" r="10.3" fill="none" stroke="#a9ddf4" stroke-width="2.0"/>
<circle cx="214.48" cy="173.16" r="8.0" fill="#cde8f5" stroke="#287cae" stroke-width="2.9"/>
<circle cx="214.48" cy="217.08" r="10.3" fill="none" stroke="#a9ddf4" stroke-width="2.0"/>
<circle cx="214.48" cy="217.08" r="8.0" fill="#cde8f5" stroke="#287cae" stroke-width="2.9"/>
<circle cx="214.48" cy="261.00" r="10.3" fill="none" stroke="#a9ddf4" stroke-width="2.0"/>
<circle cx="214.48" cy="261.00" r="8.0" fill="#cde8f5" stroke="#287cae" stroke-width="2.9"/>
<circle cx="214.48" cy="304.92" r="10.3" fill="none" stroke="#a9ddf4" stroke-width="2.0"/>
<circle cx="214.48" cy="304.92" r="8.0" fill="#cde8f5" stroke="#287cae" stroke-width="2.9"/>
<circle cx="214.48" cy="348.84" r="10.3" fill="none" stroke="#a9ddf4" stroke-width="2.0"/>
<circle cx="214.48" cy="348.84" r="8.0" fill="#cde8f5" stroke="#287cae" stroke-width="2.9"/>
<circle cx="258.40" cy="41.40" r="10.3" fill="none" stroke="#a9ddf4" stroke-width="2.0"/>
<circle cx="258.40" cy="41.40" r="8.0" fill="#cde8f5" stroke="#287cae" stroke-width="2.9"/>
<circle cx="258.40" cy="85.32" r="10.3" fill="none" stroke="#a9ddf4" stroke-width="2.0"/>
<circle cx="258.40" cy="85.32" r="8.0" fill="#cde8f5" stroke="#287cae" stroke-width="2.9"/>
<circle cx="258.40" cy="129.24" r="10.3" fill="none" stroke="#a9ddf4" stroke-width="2.0"/>
<circle cx="258.40" cy="129.24" r="8.0" fill="#cde8f5" stroke="#287cae" stroke-width="2.9"/>
<circle cx="258.40" cy="173.16" r="10.3" fill="none" stroke="#a9ddf4" stroke-width="2.0"/>
<circle cx="258.40" cy="173.16" r="8.0" fill="#cde8f5" stroke="#287cae" stroke-width="2.9"/>
<circle cx="258.40" cy="217.08" r="10.3" fill="none" stroke="#a9ddf4" stroke-width="2.0"/>
<circle cx="258.40" cy="217.08" r="8.0" fill="#cde8f5" stroke="#287cae" stroke-width="2.9"/>
<circle cx="258.40" cy="261.00" r="10.3" fill="none" stroke="#a9ddf4" stroke-width="2.0"/>
<circle cx="258.40" cy="261.00" r="8.0" fill="#cde8f5" stroke="#287cae" stroke-width="2.9"/>
<circle cx="258.40" cy="304.92" r="10.3" fill="none" stroke="#a9ddf4" stroke-width="2.0"/>
<circle cx="258.40" cy="304.92" r="8.0" fill="#cde8f5" stroke="#287cae" stroke-width="2.9"/>
<circle cx="302.32" cy="85.32" r="10.3" fill="none" stroke="#a9ddf4" stroke-width="2.0"/>
<circle cx="302.32" cy="85.32" r="8.0" fill="#cde8f5" stroke="#287cae" stroke-width="2.9"/>
<circle cx="302.32" cy="129.24" r="10.3" fill="none" stroke="#a9ddf4" stroke-width="2.0"/>
<circle cx="302.32" cy="129.24" r="8.0" fill="#cde8f5" stroke="#287cae" stroke-width="2.9"/>
<circle cx="302.32" cy="173.16" r="10.3" fill="none" stroke="#a9ddf4" stroke-width="2.0"/>
<circle cx="302.32" cy="173.16" r="8.0" fill="#cde8f5" stroke="#287cae" stroke-width="2.9"/>
<circle cx="302.32" cy="217.08" r="10.3" fill="none" stroke="#a9ddf4" stroke-width="2.0"/>
<circle cx="302.32" cy="217.08" r="8.0" fill="#cde8f5" stroke="#287cae" stroke-width="2.9"/>
<circle cx="302.32" cy="261.00" r="10.3" fill="none" stroke="#a9ddf4" stroke-width="2.0"/>
<circle cx="302.32" cy="261.00" r="8.0" fill="#cde8f5" stroke="#287cae" stroke-width="2.9"/>
<circle cx="302.32" cy="304.92" r="10.3" fill="none" stroke="#a9ddf4" stroke-width="2.0"/>
<circle cx="302.32" cy="304.92" r="8.0" fill="#cde8f5" stroke="#287cae" stroke-width="2.9"/>
<circle cx="302.32" cy="348.84" r="10.3" fill="none" stroke="#a9ddf4" stroke-width="2.0"/>
<circle cx="302.32" cy="348.84" r="8.0" fill="#cde8f5" stroke="#287cae" stroke-width="2.9"/>
<circle cx="346.24" cy="85.32" r="10.3" fill="none" stroke="#a9ddf4" stroke-width="2.0"/>
<circle cx="346.24" cy="85.32" r="8.0" fill="#cde8f5" stroke="#287cae" stroke-width="2.9"/>
<circle cx="346.24" cy="173.16" r="10.3" fill="none" stroke="#a9ddf4" stroke-width="2.0"/>
<circle cx="346.24" cy="173.16" r="8.0" fill="#cde8f5" stroke="#287cae" stroke-width="2.9"/>
<circle cx="346.24" cy="261.00" r="10.3" fill="none" stroke="#a9ddf4" stroke-width="2.0"/>
<circle cx="346.24" cy="261.00" r="8.0" fill="#cde8f5" stroke="#287cae" stroke-width="2.9"/>
<g class="lg"><circle cx="53.8" cy="382.3" r="8.6" fill="#cce5f3" stroke="#2a7fb6" stroke-width="2.8"/>
<circle cx="53.8" cy="409.4" r="8.6" fill="#f8ccd0" stroke="#bf5864" stroke-width="2.8"/>
<rect x="46.3" y="430.6" width="3" height="8.4" fill="#dedede"/><rect x="58.6" y="430.6" width="3" height="8.4" fill="#dedede"/><rect x="46.3" y="433.6" width="15.3" height="2.6" fill="#dedede"/>
<text x="73.4" y="387.8" font-size="15.2">Ancilla qubit</text>
<text x="73.4" y="414.6" font-size="15.2">Data qubit</text>
<text x="73.4" y="440" font-size="15.2">Coupler</text>
<text x="216.6" y="397.4" font-size="15.2">Distance-3 subset</text>
<text x="216.6" y="431.8" font-size="15.2">Distance-5 subset</text>
<path d="M186.33,383.83 A4.33,4.33 0 0 1 195.00,383.83 L203.67,383.83 A4.33,4.33 0 0 1 203.67,392.50 L203.67,401.17 A4.33,4.33 0 0 1 195.00,401.17 L186.33,401.17 A4.33,4.33 0 0 1 186.33,392.50 L186.33,383.83 Z" fill="none" stroke="#e9a463" stroke-width="1.6" stroke-linejoin="round"/>
<path d="M184.55,416.55 A2.55,2.55 0 0 1 189.65,416.55 L194.75,416.55 A2.55,2.55 0 0 1 199.85,416.55 L204.95,416.55 A2.55,2.55 0 0 1 204.95,421.65 L204.95,426.75 A2.55,2.55 0 0 1 204.95,431.85 L204.95,436.95 A2.55,2.55 0 0 1 199.85,436.95 L194.75,436.95 A2.55,2.55 0 0 1 189.65,436.95 L184.55,436.95 A2.55,2.55 0 0 1 184.55,431.85 L184.55,426.75 A2.55,2.55 0 0 1 184.55,421.65 L184.55,416.55 Z" fill="none" stroke="#c93a4a" stroke-width="1.6" stroke-linejoin="round"/></g>
<rect x="470.6" y="37.7" width="178.50" height="340.00" fill="none" stroke="#2b2b2b" stroke-width="1.3"/>
<line x1="462.1" y1="37.44" x2="470.6" y2="37.44" stroke="#2b2b2b" stroke-width="1.2"/>
<line x1="462.1" y1="172.90" x2="470.6" y2="172.90" stroke="#2b2b2b" stroke-width="1.2"/>
<line x1="465.6" y1="193.49" x2="470.6" y2="193.49" stroke="#2b2b2b" stroke-width="1"/>
<line x1="465.6" y1="216.51" x2="470.6" y2="216.51" stroke="#2b2b2b" stroke-width="1"/>
<line x1="465.6" y1="242.61" x2="470.6" y2="242.61" stroke="#2b2b2b" stroke-width="1"/>
<line x1="465.6" y1="272.73" x2="470.6" y2="272.73" stroke="#2b2b2b" stroke-width="1"/>
<line x1="465.6" y1="308.36" x2="470.6" y2="308.36" stroke="#2b2b2b" stroke-width="1"/>
<line x1="465.6" y1="351.97" x2="470.6" y2="351.97" stroke="#2b2b2b" stroke-width="1"/>
<line x1="496.1" y1="377.7" x2="496.1" y2="385.7" stroke="#2b2b2b" stroke-width="1.2"/>
<text x="496.1" y="403.8" font-size="15.8" text-anchor="middle">3</text>
<line x1="559.9" y1="377.7" x2="559.9" y2="385.7" stroke="#2b2b2b" stroke-width="1.2"/>
<text x="559.9" y="403.8" font-size="15.8" text-anchor="middle">5</text>
<line x1="623.5" y1="377.7" x2="623.5" y2="385.7" stroke="#2b2b2b" stroke-width="1.2"/>
<text x="623.5" y="403.8" font-size="15.8" text-anchor="middle">7</text>
<text x="457.5" y="43.74" font-size="16.4" text-anchor="end">0.02</text>
<text x="457.5" y="179.20" font-size="16.4" text-anchor="end">0.01</text>
<text x="559.8" y="426" font-size="19.8" text-anchor="middle" textLength="198.4" lengthAdjust="spacingAndGlyphs">Surface code distance</text>
<text transform="translate(416.3 207) rotate(-90)" x="0" y="0" font-size="19.7" text-anchor="middle" textLength="196" lengthAdjust="spacingAndGlyphs">Logical error per cycle</text>
<line x1="496" y1="94.3" x2="641.2" y2="243.6" stroke="#2c74a7" stroke-width="3.1"/>
<line x1="498" y1="121.6" x2="640.2" y2="314.4" stroke="#2c74a7" stroke-width="3.1" stroke-dasharray="12 5.8"/>
<polygon points="496.10,83.20 501.82,93.10 490.38,93.10" fill="#8e2a3c" stroke="#5a1a26" stroke-width="1"/>
<polygon points="496.10,110.80 501.38,119.95 490.82,119.95" fill="#fff" stroke="#c65a6c" stroke-width="1.6"/>
<polygon points="559.80,164.60 565.70,168.88 563.44,175.82 556.16,175.82 553.90,168.88" fill="#3caa6c" stroke="#1d4a34" stroke-width="1.2"/>
<polygon points="559.80,204.00 565.70,208.28 563.44,215.22 556.16,215.22 553.90,208.28" fill="#fff" stroke="#70c49b" stroke-width="1.3"/>
<polygon points="630.00,220.50 626.85,225.96 620.55,225.96 617.40,220.50 620.55,215.04 626.85,215.04" fill="#2d52b8" stroke="#1a2d66" stroke-width="1.2"/>
<polygon points="630.00,290.90 626.85,296.36 620.55,296.36 617.40,290.90 620.55,285.44 626.85,285.44" fill="#fff" stroke="#6c62b8" stroke-width="1.3"/>
<line x1="478.2" y1="330.7" x2="507.2" y2="330.7" stroke="#2c74a7" stroke-width="3.1"/>
<line x1="479.6" y1="360.2" x2="506" y2="360.2" stroke="#2c74a7" stroke-width="3.1" stroke-dasharray="11 4.5"/>
<text x="519.0" y="336.1" font-size="17.8" textLength="12.4" lengthAdjust="spacingAndGlyphs">Λ</text>
<text x="531.6" y="339.3" font-size="13" textLength="21" lengthAdjust="spacingAndGlyphs">exp</text>
<text x="557.6" y="336.1" font-size="17" textLength="12" lengthAdjust="spacingAndGlyphs">=</text>
<text x="575.4" y="336.1" font-size="17.8" textLength="60.6" lengthAdjust="spacingAndGlyphs">1.40(6)</text>
<text x="519.0" y="365.7" font-size="17.8" textLength="12.4" lengthAdjust="spacingAndGlyphs">Λ</text>
<text x="531.6" y="368.9" font-size="13" textLength="21" lengthAdjust="spacingAndGlyphs">sim</text>
<text x="557.6" y="365.7" font-size="17" textLength="12" lengthAdjust="spacingAndGlyphs">=</text>
<text x="575.4" y="365.7" font-size="17.8" textLength="59.6" lengthAdjust="spacingAndGlyphs">1.56(3)</text>
</svg>
</body></html>
